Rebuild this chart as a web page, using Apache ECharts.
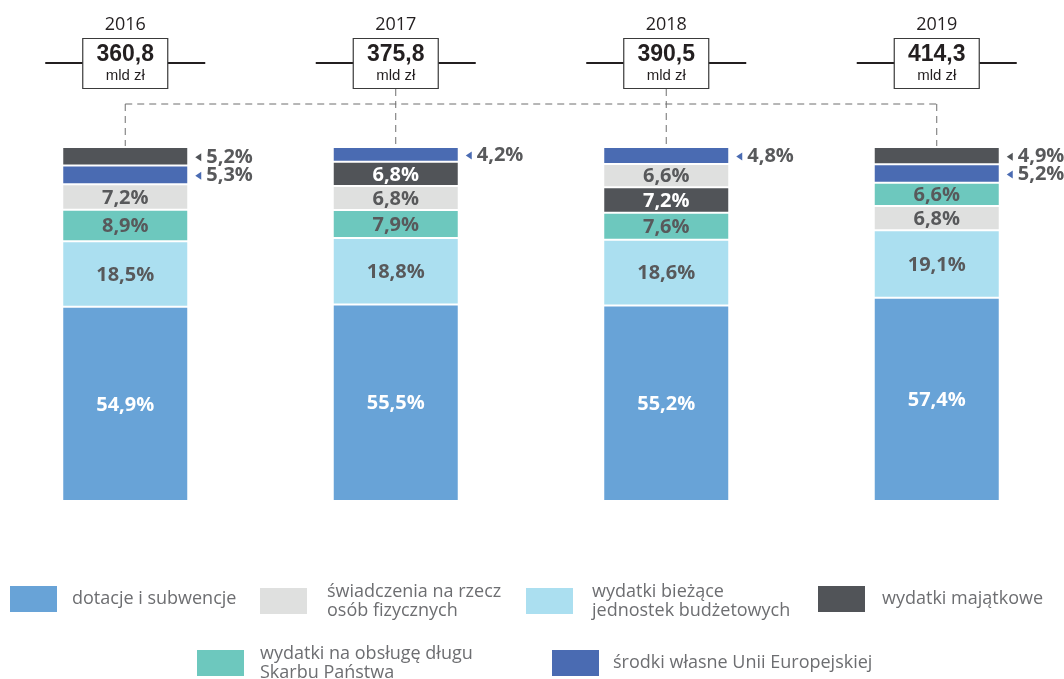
<!DOCTYPE html>
<html>
<head>
<meta charset="utf-8">
<script src="https://cdn.jsdelivr.net/npm/echarts@6/dist/echarts.min.js"></script>
<style>
  html, body { margin: 0; padding: 0; background: #ffffff; }
  #chart { width: 1064px; height: 679px; }
</style>
</head>
<body>
<div id="chart"></div>
<script>
// Budget expenditure structure, share of total (%)
const years = ['2016', '2017', '2018', '2019'];
const totals = [360.8, 375.8, 390.5, 414.3];          // mld zł
const dotacje = [54.9, 55.5, 55.2, 57.4];
const biezace = [18.5, 18.8, 18.6, 19.1];
const obslugaDlugu = [8.9, 7.9, 7.6, 6.6];
const swiadczenia = [7.2, 6.8, 6.6, 6.8];
const majatkowe = [5.2, 6.8, 7.2, 4.9];
const srodkiUE = [5.3, 4.2, 4.8, 5.2];

// Stacking order from the bottom of each year's bar
const stackOrder = [
  ['dot', 'bie', 'dlug', 'swi', 'ue', 'maj'],
  ['dot', 'bie', 'dlug', 'swi', 'maj', 'ue'],
  ['dot', 'bie', 'dlug', 'maj', 'swi', 'ue'],
  ['dot', 'bie', 'swi', 'dlug', 'ue', 'maj']
];

const groups = [
  { key: 'dot',  name: 'dotacje i subwencje', values: dotacje, color: '#68a3d7', text: '#ffffff' },
  { key: 'swi',  name: 'świadczenia na rzecz\nosób fizycznych', values: swiadczenia, color: '#dfe0df', text: '#58595b' },
  { key: 'bie',  name: 'wydatki bieżące\njednostek budżetowych', values: biezace, color: '#abdff0', text: '#58595b' },
  { key: 'maj',  name: 'wydatki majątkowe', values: majatkowe, color: '#515458', text: '#ffffff' },
  { key: 'dlug', name: 'wydatki na obsługę długu\nSkarbu Państwa', values: obslugaDlugu, color: '#6dc8be', text: '#58595b' },
  { key: 'ue',   name: 'środki własne Unii Europejskiej', values: srodkiUE, color: '#4a6bb2', text: '#ffffff' }
];

// cumulative base of every segment, following each year's own order
const bases = {};
groups.forEach(g => { bases[g.key] = []; });
stackOrder.forEach((order, i) => {
  let acc = 0;
  order.forEach(k => {
    const g = groups.find(x => x.key === k);
    bases[k][i] = acc;
    acc += g.values[i];
  });
});

const fmt = v => v.toFixed(1).replace('.', ',');
const BAR_W = 124;
const LABEL_FONT = 'bold 20px "Open Sans"';

function makeRenderer(g) {
  return function (params, api) {
    const i = api.value(0), base = api.value(1), v = api.value(2);
    const pBot = api.coord([i, base]);
    const pTop = api.coord([i, base + v]);
    const x = pBot[0] - BAR_W / 2;
    const y = pTop[1] + 1;
    const h = pBot[1] - pTop[1] - 2;
    const cy = y + h / 2;
    const children = [{
      type: 'rect',
      shape: { x: x, y: y, width: BAR_W, height: h },
      style: { fill: api.visual('color') }
    }];
    const txt = fmt(v) + '%';
    if (v < 6) {
      const tx = x + BAR_W + 8;
      children.push({
        type: 'polygon',
        shape: { points: [[tx, cy + 1], [tx + 6, cy - 3], [tx + 6, cy + 5]] },
        style: { fill: g.color }
      });
      children.push({
        type: 'text',
        style: {
          x: tx + 11, y: cy + 1, text: txt, fill: '#58595b', font: LABEL_FONT,
          align: 'left', verticalAlign: 'middle', textAlign: 'left', textVerticalAlign: 'middle'
        }
      });
    } else {
      children.push({
        type: 'text',
        style: {
          x: pBot[0], y: cy + 1, text: txt, fill: g.text, font: LABEL_FONT,
          align: 'center', verticalAlign: 'middle', textAlign: 'center', textVerticalAlign: 'middle'
        }
      });
    }
    return { type: 'group', children: children };
  };
}

const series = groups.map(g => ({
  name: g.name,
  type: 'custom',
  itemStyle: { color: g.color },
  renderItem: makeRenderer(g),
  data: years.map((y, i) => [i, bases[g.key][i], g.values[i]]),
  animation: false
}));

// legend placement: [left, top, text gap]
const legendPos = [
  [10, 586, 10],
  [260, 582, 15],
  [526, 582, 14],
  [818, 586, 12],
  [197, 644, 11],
  [552, 650, 9]
];
const legends = groups.map((g, k) => ({
  data: [g.name],
  left: legendPos[k][0],
  top: legendPos[k][1],
  padding: 0,
  icon: 'rect',
  itemWidth: 47,
  itemHeight: 26,
  selectedMode: false,
  textStyle: {
    fontFamily: 'Open Sans', fontSize: 18, color: '#6d6e71',
    lineHeight: 19, padding: [0, 0, 0, legendPos[k][2]]
  }
}));

const chart = echarts.init(document.getElementById('chart'), null, { renderer: 'canvas' });
chart.setOption({
  backgroundColor: '#ffffff',
  animation: false,
  grid: { left: 0, right: 0, top: 147, bottom: 178 },
  // year index on a value axis so the bar spacing can be set freely
  xAxis: { type: 'value', min: -0.46303, max: 3.47043, show: false },
  yAxis: { type: 'value', min: 0, max: 100, show: false },
  legend: legends,
  series: series
});

// year headers with totals, and the dashed connector above the bars
const xs = years.map((y, i) => chart.convertToPixel({ xAxisIndex: 0 }, i));
const dash = { stroke: '#6f6f6f', lineWidth: 1, lineDash: [7, 5] };
const graphics = [];
xs.forEach((cx, i) => {
  graphics.push({
    type: 'line', z: 10,
    shape: { x1: cx - 80, y1: 63, x2: cx + 80, y2: 63 },
    style: { stroke: '#231f20', lineWidth: 2 }
  });
  graphics.push({
    type: 'rect', z: 11,
    shape: { x: cx - 42.5, y: 38.5, width: 85, height: 50 },
    style: { fill: '#ffffff', stroke: '#3a3a3a', lineWidth: 1.2 }
  });
  graphics.push({
    type: 'text', z: 12,
    style: { x: cx, y: 25, text: years[i], fill: '#231f20', font: '18px "Open Sans"',
             align: 'center', verticalAlign: 'middle', textAlign: 'center', textVerticalAlign: 'middle' }
  });
  graphics.push({
    type: 'text', z: 12,
    style: { x: cx, y: 55, text: fmt(totals[i]), fill: '#231f20', font: 'bold 23px "Liberation Sans"',
             align: 'center', verticalAlign: 'middle', textAlign: 'center', textVerticalAlign: 'middle' }
  });
  graphics.push({
    type: 'text', z: 12,
    style: { x: cx, y: 76, text: 'mld zł', fill: '#231f20', font: '15px "Liberation Sans"',
             align: 'center', verticalAlign: 'middle', textAlign: 'center', textVerticalAlign: 'middle' }
  });
  const isEnd = (i === 0 || i === xs.length - 1);
  graphics.push({
    type: 'line', z: 9,
    shape: { x1: cx, y1: isEnd ? 104 : 89, x2: cx, y2: 146 },
    style: dash
  });
});
graphics.push({
  type: 'line', z: 9,
  shape: { x1: xs[0], y1: 104, x2: xs[xs.length - 1], y2: 104 },
  style: dash
});
chart.setOption({ graphic: graphics });
</script>
</body>
</html>
